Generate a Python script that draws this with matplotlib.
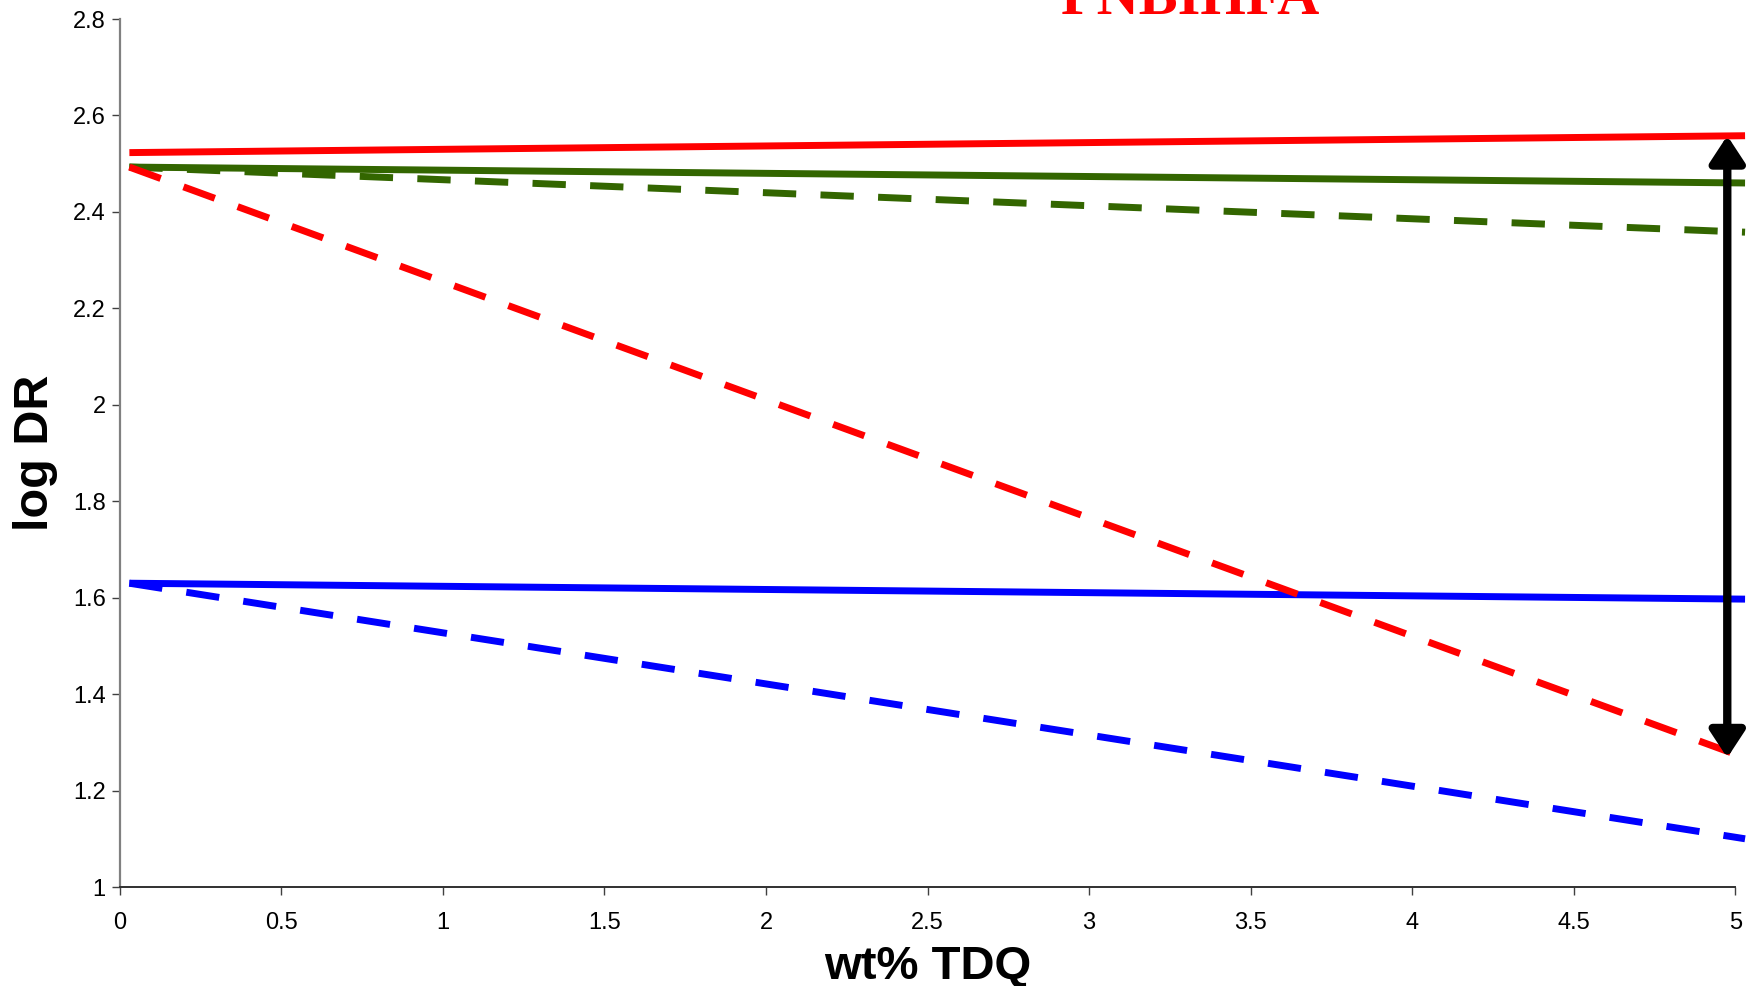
import matplotlib
matplotlib.use('Agg')
import matplotlib.pyplot as plt

plt.rcParams['font.family'] = ['Liberation Sans', 'DejaVu Sans']

# line end points (wt% TDQ, log DR)
xEnds = [0.03, 5.03]
redSolid = [2.523, 2.558]
greenSolid = [2.493, 2.460]
greenDashed = [2.493, 2.358]
redDashed = [2.493, 1.268]
blueSolid = [1.630, 1.597]
blueDashed = [1.630, 1.100]

# double arrow at the right edge
arrowX = 4.975
arrowTop = 2.558
arrowBottom = 1.268

yTicks = [1, 1.2, 1.4, 1.6, 1.8, 2, 2.2, 2.4, 2.6, 2.8]
yTickLabels = ['1', '1.2', '1.4', '1.6', '1.8', '2', '2.2', '2.4', '2.6', '2.8']
xTicks = [0, 0.5, 1, 1.5, 2, 2.5, 3, 3.5, 4, 4.5, 5]
xTickLabels = ['0', '0.5', '1', '1.5', '2', '2.5', '3', '3.5', '4', '4.5', '5']

red = '#FF0000'
green = '#336600'
blue = '#0000FF'
dash = (0, (4.8, 3.5))

fig = plt.figure(figsize=(17.6, 9.86), dpi=100)
ax = fig.add_axes([0.068, 0.1004, 0.918, 0.8803])

lw = 5
ax.plot(xEnds, blueSolid, color=blue, lw=lw, solid_capstyle='butt', clip_on=False)
ax.plot(xEnds, blueDashed, color=blue, lw=lw, linestyle=dash, dash_capstyle='butt', clip_on=False)
ax.plot(xEnds, greenSolid, color=green, lw=lw, solid_capstyle='butt', clip_on=False)
ax.plot(xEnds, greenDashed, color=green, lw=lw, linestyle=dash, dash_capstyle='butt', clip_on=False)
ax.plot(xEnds, redSolid, color=red, lw=lw, solid_capstyle='butt', clip_on=False)
ax.plot(xEnds, redDashed, color=red, lw=lw, linestyle=dash, dash_capstyle='butt', clip_on=False)

ax.annotate('', xy=(arrowX, arrowTop), xytext=(arrowX, arrowBottom),
            arrowprops=dict(arrowstyle='<|-|>,head_length=16,head_width=10.5',
                            mutation_scale=1, lw=6, color='black',
                            shrinkA=0, shrinkB=0),
            annotation_clip=False, zorder=5)

ax.set_xlim(0, 5)
ax.set_ylim(1, 2.8)
ax.set_xticks(xTicks)
ax.set_xticklabels(xTickLabels)
ax.set_yticks(yTicks)
ax.set_yticklabels(yTickLabels)
ax.tick_params(axis='both', labelsize=17, length=6, width=1, color='#404040')
ax.tick_params(axis='x', pad=12)
ax.tick_params(axis='y', pad=4)

ax.spines['top'].set_visible(False)
ax.spines['right'].set_visible(False)
ax.spines['left'].set_color('#808080')
ax.spines['left'].set_linewidth(1.6)
ax.spines['bottom'].set_color('#303030')
ax.spines['bottom'].set_linewidth(1.4)

fig.text(0.5273, 0.007, 'wt% TDQ', fontsize=34, fontweight='bold', ha='center', va='baseline')
fig.text(0.020, 0.541, 'log DR', fontsize=35, fontweight='bold', rotation=90, ha='center', va='center')
fig.text(0.676, 0.9858, 'PNBIHFA', fontsize=42, fontweight='bold', color=red,
         family=['Liberation Serif', 'DejaVu Serif'], ha='center', va='baseline')

fig.savefig('out.png', dpi=100)
